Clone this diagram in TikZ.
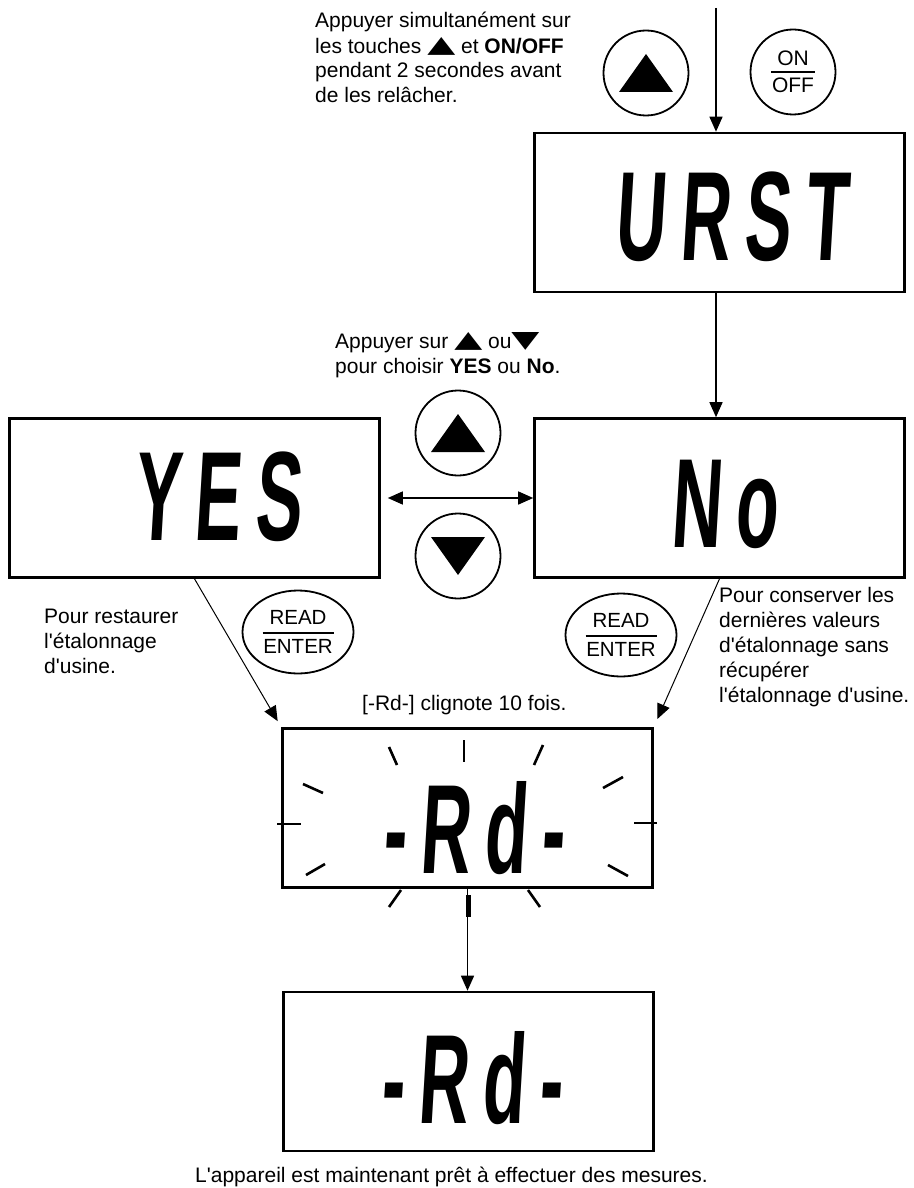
\documentclass[tikz,border=0pt]{standalone}
\usepackage{fontspec}
\setmainfont{Liberation Sans}
\newfontfamily\symfont{DejaVu Sans}
\newfontfamily\lcdfont{Liberation Sans}[FakeSlant=0.06,FakeStretch=0.55,LetterSpace=11]
\usetikzlibrary{arrows.meta,shapes.geometric}

\newcommand\tri[1]{\raisebox{1pt}{\resizebox{28pt}{15pt}{\symfont #1}}}
\newcommand\q{\textquotesingle}

\tikzset{
  lcdbox/.style={draw, line width=2.6pt, minimum width=370pt, minimum height=159pt, inner sep=0pt},
  lcd/.style={font=\lcdfont\bfseries\fontsize{127}{127}\selectfont, inner sep=0pt},
  btn/.style={circle, draw, line width=1.8pt, minimum size=85pt, inner sep=0pt, align=center, font=\fontsize{21}{22}\selectfont},
  rkey/.style={ellipse, draw, line width=1.8pt, minimum width=111pt, minimum height=83pt, inner sep=0pt, align=center, font=\fontsize{20.5}{22}\selectfont},
  note/.style={font=\fontsize{21}{25}\selectfont, align=left, inner sep=0pt},
  flow/.style={->, line width=1.4pt},
  ray/.style={line width=2.6pt}
}

\begin{document}
\begin{tikzpicture}[x=1pt, y=-1pt, >={Triangle[length=15pt,width=13pt]}]
\useasboundingbox (0,0) rectangle (913,1188);

% displays
\node[lcdbox] (urst) at (719.5,212.5) {};
\node[lcdbox] (yes) at (194.5,498) {};
\node[lcdbox] (no) at (719.5,498) {};
\node[lcdbox] (blink) at (467.5,808) {};
\node[lcdbox] (ready) at (468.5,1071.5) {};

\node[lcd] (urst-t) at (731,217) {URST};
\node[lcd] (yes-t) at (217,497) {YES};
\node[lcd] (no-t) at (724,504) {No};
\node[lcd] (blink-t) at (473,828) {-\kern14pt Rd\kern14pt -};
\node[lcd] (ready-t) at (471,1078) {-\kern14pt Rd\kern14pt -};

% keys
\node[btn] (up1) at (646,73) {};
\node[btn] (onoff) at (793,72) {ON\\[-15pt]\rule{44pt}{2pt}\\[-2pt]OFF};
\node[btn] (up2) at (458,433) {};
\node[btn] (down2) at (458,556) {};
\node[rkey] (read1) at (298,632) {READ\\[-12.5pt]\rule{71pt}{2.5pt}\\[-2.5pt]ENTER};
\node[rkey] (read2) at (621,635) {READ\\[-12.5pt]\rule{71pt}{2.5pt}\\[-2.5pt]ENTER};

\fill ([shift={(-27,19)}]up1.center) -- ++(54,0) -- ++(-27,-38) -- cycle;
\fill ([shift={(-27,19)}]up2.center) -- ++(54,0) -- ++(-27,-38) -- cycle;
\fill ([shift={(-27,-19)}]down2.center) -- ++(54,0) -- ++(-27,38) -- cycle;

% notes (base = last line)
\node[note, anchor=base west] (n-start) at (315,103)
{Appuyer simultanément sur\\les touches \tri{▲} et \textbf{ON/OFF}\\pendant 2 secondes avant\\de les relâcher.};
\node[note, anchor=base west] (n-choose) at (335,373)
{Appuyer sur \tri{▲} ou\tri{▼}\\pour choisir \textbf{YES} ou \textbf{No}.};
\node[note, anchor=base west] (n-yes) at (44,673)
{Pour restaurer\\l\q{}étalonnage\\d\q{}usine.};
\node[note, anchor=base west] (n-no) at (719,702)
{Pour conserver les\\dernières valeurs\\d\q{}étalonnage sans\\récupérer\\l\q{}étalonnage d\q{}usine.};
\node[note, anchor=base west] (n-blink) at (362,710) {[-Rd-] clignote 10 fois.};
\node[note, anchor=base west] (n-ready) at (195,1182)
{L\q{}appareil est maintenant prêt à effectuer des mesures.};

% flashing marks round -Rd-
\foreach \xa/\ya/\xb/\yb in {277/824/301/824, 634/823/657/823, 303/784/323/793,
  603/788/623/777, 306/875/325/864, 608/865/628/876, 389/747/397/765,
  464/740/464/762, 543/745/534/765, 389/907/401/890, 528/890/540/907}
  \draw[ray] (\xa,\ya) -- (\xb,\yb);

% connectors
\coordinate (top) at (716,8);
\draw[flow] (top) -- (top |- urst.north);
\draw[flow] (urst.south -| top) -- (no.north -| top);
\draw[flow, <->, shorten <=7pt] (yes) -- (no);
\draw[->, line width=1pt, shorten >=7pt] (yes.south) -- (blink.north west);
\draw[->, line width=1pt, shorten >=9pt] (no.south) -- (blink.north east);
\draw[flow] (blink.south) -- (blink.south |- ready.north);
\draw[line width=5pt] (468,895) -- (468,917);

\end{tikzpicture}
\end{document}
